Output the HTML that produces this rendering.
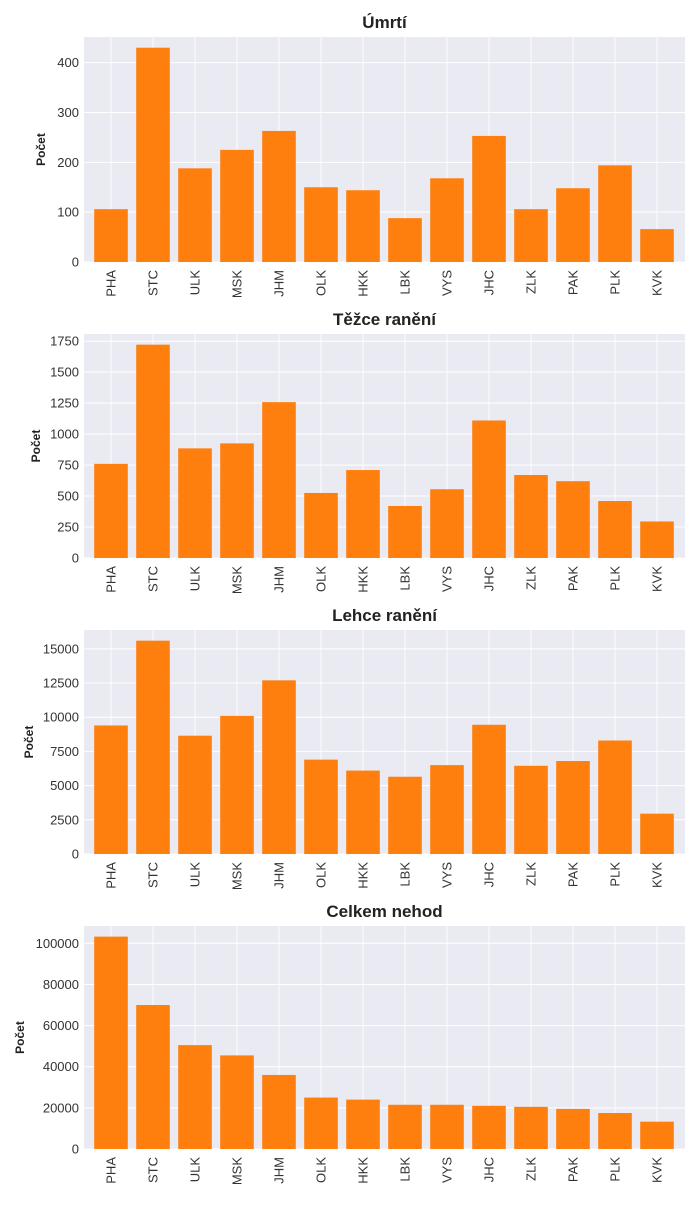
<!DOCTYPE html>
<html><head><meta charset="utf-8"><style>
body{margin:0;background:#fff;}
svg text{font-family:"Liberation Sans",sans-serif;}
</style></head><body>
<svg id="chart" width="700" height="1200" xmlns="http://www.w3.org/2000/svg"></svg>
<script>
const categories=["PHA","STC","ULK","MSK","JHM","OLK","HKK","LBK","VYS","JHC","ZLK","PAK","PLK","KVK"];
const titles=["Úmrtí","Těžce ranění","Lehce ranění","Celkem nehod"];
const deaths=[106,430,188,225,263,150,144,88,168,253,106,148,194,66];
const severe=[760,1722,885,925,1258,525,710,420,555,1110,670,620,460,295];
const light=[9400,15600,8650,10100,12700,6900,6100,5650,6500,9450,6450,6800,8300,2950];
const total=[103250,70000,50500,45500,36000,25000,24000,21500,21500,21000,20500,19500,17500,13300];
const ticks1=[0,100,200,300,400];
const ticks2=[0,250,500,750,1000,1250,1500,1750];
const ticks3=[0,2500,5000,7500,10000,12500,15000];
const ticks4=[0,20000,40000,60000,80000,100000];
const series=[deaths,severe,light,total];
const tickSets=[ticks1,ticks2,ticks3,ticks4];
const NS="http://www.w3.org/2000/svg";
const svg=document.getElementById('chart');
function mk(tag,attrs,parent){const e=document.createElementNS(NS,tag);for(const k in attrs)e.setAttribute(k,attrs[k]);(parent||svg).appendChild(e);return e;}
const L=84,R=685,pitch=42,x0=111;
const tops=[37,334,630,926],bottoms=[262,558,854,1149];
const xScale=i=>x0+pitch*i;
series.forEach((vals,p)=>{
  const top=tops[p],bot=bottoms[p];
  const ymax=Math.max(...vals)*1.05;
  const yScale=v=>bot-(v/ymax)*(bot-top);
  const g=mk('g',{});
  
  
  const bg=mk('rect',{x:L,y:top,width:R-L,height:bot-top,fill:'#eaeaf2'},g);
  
  
  tickSets[p].forEach(t=>{
    const y=yScale(t);
    const gl=mk('line',{x1:L,x2:R,y1:y,y2:y,stroke:'#fff','stroke-width':1},g);
    
    
    const tl=mk('text',{x:L-5,y:y+4.5,'text-anchor':'end','font-size':13,fill:'#333'},g);
    tl.textContent=t;
    
    
  });
  categories.forEach((c,i)=>{
    const x=xScale(i);
    const gl=mk('line',{x1:x,x2:x,y1:top,y2:bot,stroke:'#fff','stroke-width':1},g);
    
    
  });
  vals.forEach((v,i)=>{
    const x=xScale(i),y=yScale(v);
    const b=mk('rect',{x:x-16.8,y:y,width:33.6,height:bot-y,fill:'#ff7f0e'},g);
    
    
  });
  categories.forEach((c,i)=>{
    const x=xScale(i);
    const t=mk('text',{x:0,y:0,transform:`translate(${x+4.5},${bot+8}) rotate(-90)`,'text-anchor':'end','font-size':13,fill:'#333'},g);
    t.textContent=c;
    
    
  });
  const ti=mk('text',{x:(L+R)/2,y:top-9,'text-anchor':'middle','font-size':17,'font-weight':'bold',fill:'#222'},g);
  ti.textContent=titles[p];
  
  
  const labX=[45,40,33,24][p];
  const yl=mk('text',{x:0,y:0,transform:`translate(${labX},${(top+bot)/2}) rotate(-90)`,'text-anchor':'middle','font-size':12,'font-weight':'bold',fill:'#222'},g);
  yl.textContent='Počet';
  
  
});
</script>
</body></html>
